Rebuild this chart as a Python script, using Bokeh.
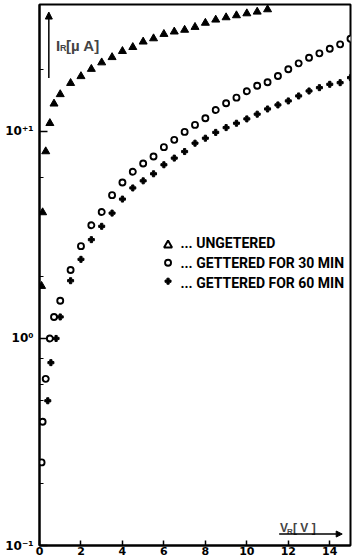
from bokeh.plotting import figure
from bokeh.models import FixedTicker, Label, Arrow, NormalHead
from bokeh.core.properties import value
from bokeh.embed import file_html
from bokeh.resources import INLINE

# ---- data ----
v_ung = [0.1, 0.15, 0.3, 0.5, 0.7, 1.0, 1.5, 2.0, 2.5, 3.0, 3.5, 4.0, 4.5, 5.0,
         5.5, 6.0, 6.5, 7.0, 7.5, 8.0, 8.5, 9.0, 9.5, 10.0, 10.5, 11.0]
i_ung = [1.79, 4.06, 8.0, 10.95, 13.6, 15.1, 17.1, 18.45, 20.0, 21.5, 22.8, 24.4, 25.5, 27.1,
         28.1, 29.5, 30.3, 30.9, 31.9, 33.4, 34.6, 35.5, 36.3, 37.1, 37.8, 38.8]

v_30 = [0.1, 0.15, 0.3, 0.5, 0.7, 1.0, 1.5, 2.0, 2.5, 3.0, 3.5, 4.0, 4.5, 5.0, 5.5, 6.0, 6.5,
        7.0, 7.5, 8.0, 8.5, 9.0, 9.5, 10.0, 10.5, 11.0, 11.5, 12.0, 12.5, 13.0, 13.5, 14.0,
        14.5, 15.0]
i_30 = [0.252, 0.396, 0.638, 1.0, 1.27, 1.52, 2.14, 2.79, 3.52, 4.08, 4.92, 5.66, 6.38, 7.0,
        7.56, 8.39, 9.10, 9.94, 10.75, 11.58, 12.69, 13.67, 14.55, 15.62, 16.62, 17.27,
        18.51, 19.94, 21.31, 22.68, 23.82, 25.06, 26.32, 28.0]

v_60 = [0.4, 0.55, 0.8, 1.0, 1.5, 2.0, 2.5, 3.0, 3.5, 4.0, 4.5, 5.0, 5.5, 6.0, 6.5, 7.0, 7.5,
        8.0, 8.5, 9.0, 9.5, 10.0, 10.5, 11.0, 11.5, 12.0, 12.5, 13.0, 13.5, 14.0, 14.5, 15.0]
i_60 = [0.50, 0.764, 1.0, 1.27, 1.90, 2.41, 3.0, 3.48, 4.03, 4.71, 5.33, 5.77, 6.24, 6.90,
        7.43, 7.99, 8.77, 9.27, 9.89, 10.43, 10.95, 11.49, 12.11, 12.83, 13.42, 14.03,
        14.83, 15.67, 16.26, 16.88, 17.19, 18.17]

x_ticks = [0, 2, 4, 6, 8, 10, 12, 14]
y_ticks = [0.1, 1, 10]
y_tick_labels = ["10\u207b\u00b9", "10\u2070", "10\u207a\u00b9"]
y_minor_ticks = [0.2, 0.5, 0.6, 0.8, 2, 6, 20]

legend_labels = ["... UNGETERED", "... GETTERED FOR 30 MIN", "... GETTERED FOR 60 MIN"]

p = figure(width=357, height=558, x_range=(0, 15), y_range=(0.1, 41),
           y_axis_type="log", output_backend="svg", toolbar_location=None,
           min_border_left=39, min_border_right=7, min_border_top=4, min_border_bottom=13)
p.background_fill_color = "white"
p.border_fill_color = "white"
p.outline_line_color = "black"
p.outline_line_width = 2
p.grid.visible = False

p.xaxis.ticker = FixedTicker(ticks=x_ticks, minor_ticks=[])
p.yaxis.ticker = FixedTicker(ticks=y_ticks, minor_ticks=y_minor_ticks)
p.yaxis.major_label_overrides = {t: s for t, s in zip(y_ticks, y_tick_labels)}

for ax in (p.xaxis, p.yaxis):
    ax.axis_line_width = 2
    ax.axis_line_color = "black"
    ax.major_tick_out = 0
    ax.minor_tick_out = 0
    ax.major_tick_line_width = 1.5
    ax.minor_tick_line_width = 1.2
    ax.major_label_text_font = "DejaVu Sans"
    ax.major_label_text_font_style = "bold"
    ax.major_label_text_color = "black"
p.xaxis.major_tick_in = 5
p.xaxis.major_label_text_font_size = "11px"
p.xaxis.major_label_standoff = 1
p.yaxis.major_tick_in = 8
p.yaxis.minor_tick_in = 4
p.yaxis.major_label_text_font_size = "12px"
p.yaxis.major_label_standoff = 6

p.scatter(v_ung, i_ung, marker="triangle", size=8, fill_color="black", line_color="black")
p.scatter(v_30, i_30, marker="circle", size=6, fill_color="white", line_color="black", line_width=1.9)
p.scatter(v_60, i_60, marker="plus", size=6, fill_color="black", line_color="black")

# legend
p.scatter([6.2], [2.82], marker="triangle", size=8, fill_color="white", line_color="black", line_width=2)
p.scatter([6.2], [2.32], marker="circle", size=6, fill_color="white", line_color="black", line_width=1.9)
p.scatter([6.2], [1.89], marker="plus", size=6, fill_color="black", line_color="black")
p.text(x=[6.8, 6.8, 6.8], y=[2.90, 2.325, 1.862], text=legend_labels,
       text_font=value("Roboto"), text_font_style="bold",
       text_font_size="14px", text_baseline="middle", text_align="left", text_color="black")

# axis titles with arrows
lab_font = "Liberation Sans"
p.add_layout(Label(x=0.8, y=26.1, text="I", text_font=lab_font, text_font_style="bold",
                   text_font_size="15px", text_baseline="alphabetic"))
p.add_layout(Label(x=0.8, y=26.1, x_offset=4, y_offset=-3, text="R", text_font=lab_font,
                   text_font_style="bold", text_font_size="9px", text_baseline="alphabetic"))
p.add_layout(Label(x=0.8, y=26.1, x_offset=10, text="[\u00b5 A]", text_font=lab_font,
                   text_font_style="bold", text_font_size="15px", text_baseline="alphabetic"))
p.add_layout(Arrow(x_start=0.45, y_start=18.1, x_end=0.45, y_end=37.7, line_width=1.5,
                   end=NormalHead(size=7, fill_color="black", line_color="black")))

p.add_layout(Label(x=11.6, y=0.121, text="V", text_font=lab_font, text_font_style="bold",
                   text_font_size="12px", text_baseline="alphabetic"))
p.add_layout(Label(x=11.6, y=0.121, x_offset=7, y_offset=-3, text="R", text_font=lab_font,
                   text_font_style="bold", text_font_size="8px", text_baseline="alphabetic"))
p.add_layout(Label(x=11.6, y=0.121, x_offset=13, text="[ V ]", text_font=lab_font,
                   text_font_style="bold", text_font_size="12px", text_baseline="alphabetic"))
p.add_layout(Arrow(x_start=11.56, y_start=0.1136, x_end=14.6, y_end=0.1136, line_width=1.5,
                   end=NormalHead(size=6, fill_color="black", line_color="black")))

open("out.html", "w").write(file_html(p, INLINE))
